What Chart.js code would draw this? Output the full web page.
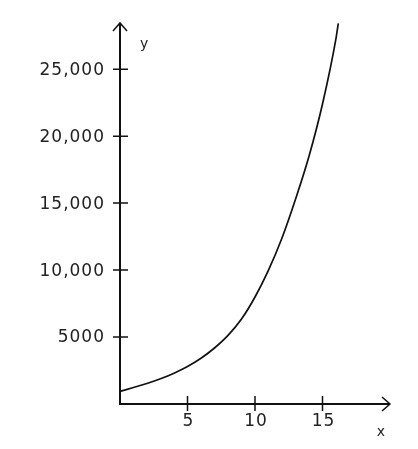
<!DOCTYPE html>
<html>
<head>
<meta charset="utf-8">
<script src="https://cdn.jsdelivr.net/npm/chart.js@4"></script>
<style>
  html, body { margin: 0; padding: 0; background: #fff; }
  #chart { display: block; }
</style>
</head>
<body>
<canvas id="chart" width="418" height="449"></canvas>
<script>
// values
const xValues = [0, 1, 2, 3, 4, 5, 6, 7, 8, 9, 10, 11, 12, 13, 14, 15, 16, 16.17];
const yValues = [940, 1230, 1530, 1880, 2300, 2800, 3415, 4180, 5120, 6345, 7990, 10000, 12400, 15290, 18500, 22400, 27300, 28430];

const xTicks = [5, 10, 15];
const xTickLabels = ['5', '10', '15'];
const yTicks = [5000, 10000, 15000, 20000, 25000];
const yTickLabels = ['5000', '10,000', '15,000', '20,000', '25,000'];

const xMax = 20;
const yMax = 28450;

const FONT = '17px "DejaVu Sans", sans-serif';

// draws the axes with arrows, crossing ticks and labels
const axesPlugin = {
    id: 'axes',
    afterDatasetsDraw(chart) {
        const ctx = chart.ctx;
        const xs = chart.scales.x;
        const ys = chart.scales.y;
        const x0 = xs.getPixelForValue(0);
        const y0 = ys.getPixelForValue(0);
        const xEnd = xs.getPixelForValue(xMax);
        const yEnd = ys.getPixelForValue(yMax);

        ctx.save();
        ctx.strokeStyle = '#111';
        ctx.lineWidth = 2;

        // axis lines
        ctx.beginPath();
        ctx.moveTo(x0, y0);
        ctx.lineTo(x0, yEnd);
        ctx.moveTo(x0 - 1, y0);
        ctx.lineTo(xEnd, y0);
        ctx.stroke();

        // arrowheads
        ctx.lineWidth = 1.5;
        ctx.beginPath();
        ctx.moveTo(x0 - 7, yEnd + 8);
        ctx.lineTo(x0, yEnd);
        ctx.lineTo(x0 + 7, yEnd + 8);
        ctx.moveTo(xEnd - 8, y0 - 7);
        ctx.lineTo(xEnd, y0);
        ctx.lineTo(xEnd - 8, y0 + 7);
        ctx.stroke();

        // ticks
        ctx.beginPath();
        yTicks.forEach(v => {
            const py = ys.getPixelForValue(v);
            ctx.moveTo(x0 - 7, py);
            ctx.lineTo(x0 + 8, py);
        });
        xTicks.forEach(v => {
            const px = xs.getPixelForValue(v);
            ctx.moveTo(px, y0 - 8);
            ctx.lineTo(px, y0 + 7);
        });
        ctx.stroke();

        // tick labels
        ctx.fillStyle = '#222';
        ctx.font = FONT;
        ctx.letterSpacing = '1px';
        ctx.textAlign = 'right';
        ctx.textBaseline = 'middle';
        yTicks.forEach((v, i) => {
            ctx.fillText(yTickLabels[i], x0 - 15, ys.getPixelForValue(v) + 1);
        });
        ctx.textAlign = 'center';
        ctx.textBaseline = 'top';
        xTicks.forEach((v, i) => {
            ctx.fillText(xTickLabels[i], xs.getPixelForValue(v) + 1, y0 + 9);
        });
        ctx.letterSpacing = '0px';

        // axis names
        ctx.font = '14px "DejaVu Sans", sans-serif';
        ctx.textAlign = 'left';
        ctx.textBaseline = 'middle';
        ctx.fillText('y', x0 + 20, yEnd + 21);
        ctx.textAlign = 'center';
        ctx.fillText('x', xEnd - 9, y0 + 28);
        ctx.restore();
    }
};

const ctx = document.getElementById('chart').getContext('2d');
const points = xValues.map((x, i) => ({ x: x, y: yValues[i] }));

new Chart(ctx, {
    type: 'line',
    data: {
        datasets: [{
            data: points,
            borderColor: '#111',
            borderWidth: 1.7,
            pointRadius: 0,
            fill: false,
            cubicInterpolationMode: 'monotone'
        }]
    },
    options: {
        responsive: false,
        animation: false,
        devicePixelRatio: 1,
        layout: { padding: { left: 120, right: 28, top: 23, bottom: 45 } },
        plugins: {
            legend: { display: false },
            tooltip: { enabled: false }
        },
        scales: {
            x: { type: 'linear', min: 0, max: xMax, display: false },
            y: { type: 'linear', min: 0, max: yMax, display: false }
        }
    },
    plugins: [axesPlugin]
});
</script>
</body>
</html>
